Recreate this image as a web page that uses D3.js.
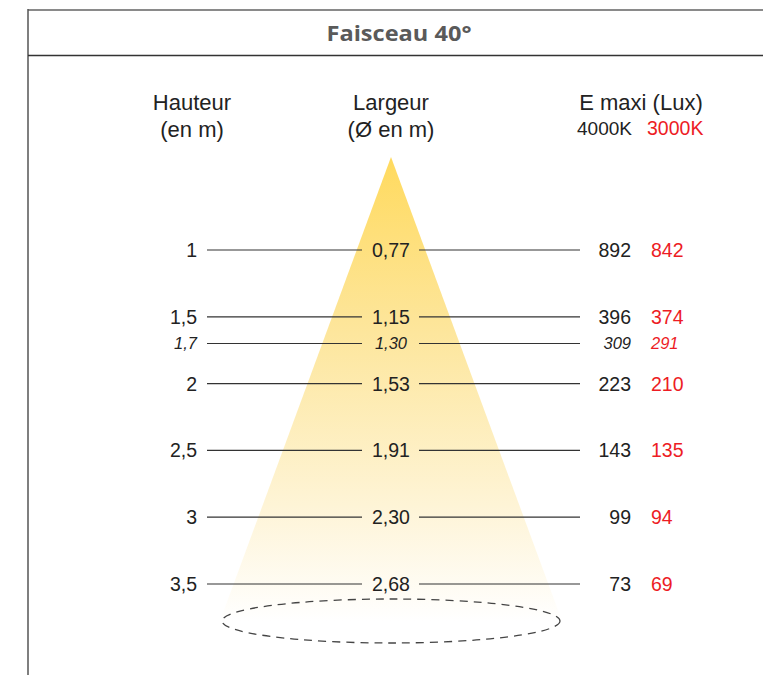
<!DOCTYPE html>
<html>
<head>
<meta charset="utf-8">
<script src="https://cdn.jsdelivr.net/npm/d3@7"></script>
<style>
  html, body { margin: 0; padding: 0; background: #fff; }
  svg { display: block; }
</style>
</head>
<body>
<svg id="chart" width="763" height="675"></svg>
<script>
// ---- data ----
const title = "Faisceau 40°";
const heights = [1, 1.5, 1.7, 2, 2.5, 3, 3.5];
const widths = [0.77, 1.15, 1.30, 1.53, 1.91, 2.30, 2.68];
const lux4000 = [892, 396, 309, 223, 143, 99, 73];
const lux3000 = [842, 374, 291, 210, 135, 94, 69];
const italicRows = [1.7];
const colHeaders = [["Hauteur", "(en m)"], ["Largeur", "(Ø en m)"], ["E maxi (Lux)"]];
const tempLabels = ["4000K", "3000K"];

// ---- layout ----
const svg = d3.select("#chart");
const fontMain = "'Liberation Sans', Arial, Helvetica, sans-serif";
const red = "#ED1C24";
const ink = "#222";
const xLeftLabel = 197, xMid = 391, xLux = 631, xLux2 = 651, xHead3 = 641;
const y = d3.scaleLinear().domain([1, 3.5]).range([250, 584]);
const fmt = v => d3.format(".2f")(v).replace(".", ",");
const fmtH = v => String(v).replace(".", ",");

// frame
svg.append("line").attr("x1", 28).attr("x2", 763).attr("y1", 10).attr("y2", 10)
  .attr("stroke", "#8a8a8a").attr("stroke-width", 2.2);
svg.append("line").attr("x1", 28).attr("x2", 28).attr("y1", 9).attr("y2", 675)
  .attr("stroke", "#555").attr("stroke-width", 1.5);
svg.append("line").attr("x1", 28).attr("x2", 763).attr("y1", 55.5).attr("y2", 55.5)
  .attr("stroke", "#333").attr("stroke-width", 1.5);

svg.append("text").attr("x", 399).attr("y", 41).attr("text-anchor", "middle")
  .attr("font-family", "'Open Sans', 'DejaVu Sans', sans-serif").attr("font-weight", 700)
  .attr("font-size", 21).attr("fill", "#5a5a5a").attr("textLength", 145)
  .attr("lengthAdjust", "spacingAndGlyphs").text(title);

// cone
const defs = svg.append("defs");
const grad = defs.append("linearGradient").attr("id", "cone").attr("x1", 0).attr("x2", 0).attr("y1", 0).attr("y2", 1);
grad.append("stop").attr("offset", "0%").attr("stop-color", "#FFDA5E");
grad.append("stop").attr("offset", "35%").attr("stop-color", "#FDE598");
grad.append("stop").attr("offset", "75%").attr("stop-color", "#FEF4D6");
grad.append("stop").attr("offset", "100%").attr("stop-color", "#FFFFFF");
const apexY = 157, baseY = 621, halfBase = 171;
svg.append("path")
  .attr("d", d3.line()([[xMid, apexY], [xMid + halfBase, baseY], [xMid - halfBase, baseY]]) + "Z")
  .attr("fill", "url(#cone)");

// ellipse
svg.append("ellipse").attr("cx", xMid).attr("cy", 621).attr("rx", 169).attr("ry", 22)
  .attr("fill", "none").attr("stroke", "#444").attr("stroke-width", 1.3)
  .attr("stroke-dasharray", "8,6");

// headers
const headX = [192, xMid, xHead3];
colHeaders.forEach((lines, i) => {
  lines.forEach((t, j) => {
    svg.append("text").attr("x", headX[i]).attr("y", 110 + j * 27)
      .attr("text-anchor", "middle").attr("font-family", fontMain)
      .attr("font-size", 22).attr("fill", ink).text(t);
  });
});
svg.append("text").attr("x", xLux + 1).attr("y", 135).attr("text-anchor", "end")
  .attr("font-family", fontMain).attr("font-size", 19).attr("fill", ink).text(tempLabels[0]);
svg.append("text").attr("x", xLux2 - 4).attr("y", 135).attr("text-anchor", "start")
  .attr("font-family", fontMain).attr("font-size", 19.5).attr("fill", red).text(tempLabels[1]);

// rows
const rows = heights.map((h, i) => ({ h, w: widths[i], a: lux4000[i], b: lux3000[i], it: italicRows.includes(h) }));
const g = svg.append("g").selectAll("g").data(rows).join("g")
  .attr("transform", d => `translate(0,${y(d.h)})`)
  .attr("font-family", fontMain)
  .attr("font-style", d => d.it ? "italic" : "normal")
  .attr("font-size", d => d.it ? 16.5 : 19.5);

g.append("line").attr("x1", 207).attr("x2", 362).attr("stroke", "#333").attr("stroke-width", 1.2);
g.append("line").attr("x1", 419).attr("x2", 580).attr("stroke", "#333").attr("stroke-width", 1.2);
g.append("text").attr("x", xLeftLabel).attr("dy", "0.36em").attr("text-anchor", "end").attr("fill", ink).text(d => fmtH(d.h));
g.append("text").attr("x", xMid).attr("dy", "0.36em").attr("text-anchor", "middle").attr("fill", ink).text(d => fmt(d.w));
g.append("text").attr("x", xLux).attr("dy", "0.36em").attr("text-anchor", "end").attr("fill", ink).text(d => d.a);
g.append("text").attr("x", xLux2).attr("dy", "0.36em").attr("text-anchor", "start").attr("fill", red).text(d => d.b);
</script>
</body>
</html>
